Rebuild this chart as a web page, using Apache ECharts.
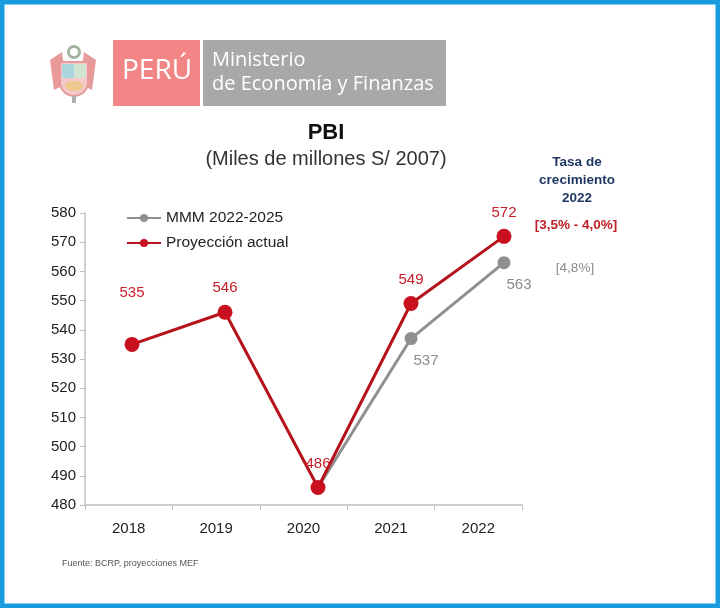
<!DOCTYPE html>
<html>
<head>
<meta charset="utf-8">
<script src="https://cdn.jsdelivr.net/npm/echarts@6/dist/echarts.min.js"></script>
<style>
  html, body { margin: 0; padding: 0; background: #fff; }
  #main { width: 720px; height: 608px; }
</style>
</head>
<body>
<div id="main"></div>
<script>
var years = ['2018', '2019', '2020', '2021', '2022'];
var mmm = [null, null, 486, 537, 563];
var actual = [535, 546, 486, 549, 572];
var growthActual = '[3,5% - 4,0%]';
var growthMmm = '[4,8%]';

var chart = echarts.init(document.getElementById('main'));

var font = '"Liberation Sans", Arial, sans-serif';

// logo, marco y textos sueltos
var graphics = [
    {type: 'rect', shape: {x: 2, y: 2, width: 716, height: 604}, style: {fill: 'none', stroke: '#1a9be0', lineWidth: 5}, z: 100},
    // escudo simplificado
    {type: 'polygon', shape: {points: [[50, 60], [62, 52], [66, 84], [54, 90]]}, style: {fill: '#e89a9a'}},
    {type: 'polygon', shape: {points: [[96, 60], [84, 52], [80, 84], [92, 90]]}, style: {fill: '#e89a9a'}},
    {type: 'rect', shape: {x: 60, y: 62, width: 28, height: 34, r: [2, 2, 14, 14]}, style: {fill: '#f4c9c9', stroke: '#e89a9a', lineWidth: 2}},
    {type: 'rect', shape: {x: 62, y: 64, width: 12, height: 14}, style: {fill: '#a9d7dd'}},
    {type: 'rect', shape: {x: 74, y: 64, width: 12, height: 14}, style: {fill: '#cfe3cf'}},
    {type: 'ellipse', shape: {cx: 74, cy: 86, rx: 9, ry: 5}, style: {fill: '#eec98f'}},
    {type: 'ring', shape: {cx: 74, cy: 52, r: 7, r0: 4}, style: {fill: '#9fb59f'}},
    {type: 'rect', shape: {x: 72, y: 96, width: 4, height: 7}, style: {fill: '#b0b0b0'}},
    // cajas
    {type: 'rect', shape: {x: 113, y: 40, width: 87, height: 66}, style: {fill: '#f28585'}},
    {type: 'rect', shape: {x: 203, y: 40, width: 243, height: 66}, style: {fill: '#a8a8a8'}},
    {type: 'text', left: 122, top: 57, style: {text: 'PERÚ', fill: '#fff', font: '28px "Open Sans", sans-serif'}},
    {type: 'text', left: 212, top: 50, style: {text: 'Ministerio', fill: '#fff', font: '20px "Open Sans", sans-serif'}},
    {type: 'text', left: 212, top: 74, style: {text: 'de Economía y Finanzas', fill: '#fff', font: '20px "Open Sans", sans-serif'}},
    // tasa de crecimiento
    {type: 'text', x: 577, y: 153, style: {text: 'Tasa de\ncrecimiento\n2022', fill: '#1f3864', font: 'bold 13.5px ' + font, align: 'center', lineHeight: 18}},
    {type: 'text', x: 576, y: 218, style: {text: growthActual, fill: '#c0202a', font: 'bold 13.5px ' + font, align: 'center'}},
    {type: 'text', x: 575, y: 261, style: {text: growthMmm, fill: '#8c8c8c', font: '13.5px ' + font, align: 'center'}},
    {type: 'text', left: 62, top: 559, style: {text: 'Fuente: BCRP, proyecciones MEF', fill: '#555', font: '9px ' + font}}
];

var labelFont = {fontFamily: font, fontSize: 15};

chart.setOption({
    backgroundColor: '#fff',
    animation: false,
    title: {
        text: 'PBI',
        subtext: '(Miles de millones S/ 2007)',
        left: 321,
        top: 117,
        textAlign: 'center',
        itemGap: 5,
        textStyle: {fontFamily: font, fontSize: 22, fontWeight: 'bold', color: '#111'},
        subtextStyle: {fontFamily: font, fontSize: 20, color: '#333'}
    },
    legend: {
        orient: 'vertical',
        left: 121,
        top: 205,
        itemGap: 9,
        itemWidth: 34,
        itemHeight: 10,
        textStyle: {fontFamily: font, fontSize: 15.5, color: '#222'},
        data: ['MMM 2022-2025', 'Proyección actual']
    },
    // grid 0: ejes visibles; grid 1: eje oculto donde van las líneas
    grid: [
        {left: 85, right: 198, top: 213, bottom: 103},
        {left: 132, right: 216, top: 213, bottom: 103}
    ],
    xAxis: [
        {
            type: 'category',
            gridIndex: 0,
            data: years,
            axisLine: {lineStyle: {color: '#bfbfbf', width: 1.5}},
            axisTick: {show: true, length: 5, lineStyle: {color: '#bfbfbf'}},
            axisLabel: {margin: 16, fontFamily: font, fontSize: 15, color: '#222'}
        },
        {
            type: 'category',
            gridIndex: 1,
            data: years,
            boundaryGap: false,
            show: false
        }
    ],
    yAxis: [
        {
            type: 'value',
            gridIndex: 0,
            min: 480,
            max: 580,
            interval: 10,
            splitLine: {show: false},
            axisLine: {show: true, lineStyle: {color: '#bfbfbf', width: 1.5}},
            axisTick: {show: true, length: 5, lineStyle: {color: '#bfbfbf'}},
            axisLabel: {margin: 9, fontFamily: font, fontSize: 15, color: '#222'}
        },
        {
            type: 'value',
            gridIndex: 1,
            min: 480,
            max: 580,
            interval: 10,
            show: false
        }
    ],
    series: [
        {
            name: 'MMM 2022-2025',
            type: 'line',
            xAxisIndex: 1,
            yAxisIndex: 1,
            data: mmm,
            symbol: 'circle',
            symbolSize: 13,
            lineStyle: {color: '#8f8f8f', width: 3},
            itemStyle: {color: '#8f8f8f'},
            label: Object.assign({
                show: true,
                position: 'bottom',
                distance: 8,
                offset: [15, 0],
                color: '#8c8c8c',
                formatter: function (p) { return p.dataIndex > 2 ? p.value : ''; }
            }, labelFont),
            z: 2
        },
        {
            name: 'Proyección actual',
            type: 'line',
            xAxisIndex: 1,
            yAxisIndex: 1,
            data: actual.map(function (v, i) {
                return i === 0 ? {value: v, label: {distance: 37}} : v;
            }),
            symbol: 'circle',
            symbolSize: 15,
            lineStyle: {color: '#b5121b', width: 3},
            itemStyle: {color: '#c8101e'},
            label: Object.assign({
                show: true,
                position: 'top',
                distance: 9,
                color: '#c8202a'
            }, labelFont),
            z: 3
        }
    ],
    graphic: graphics
});
</script>
</body>
</html>
